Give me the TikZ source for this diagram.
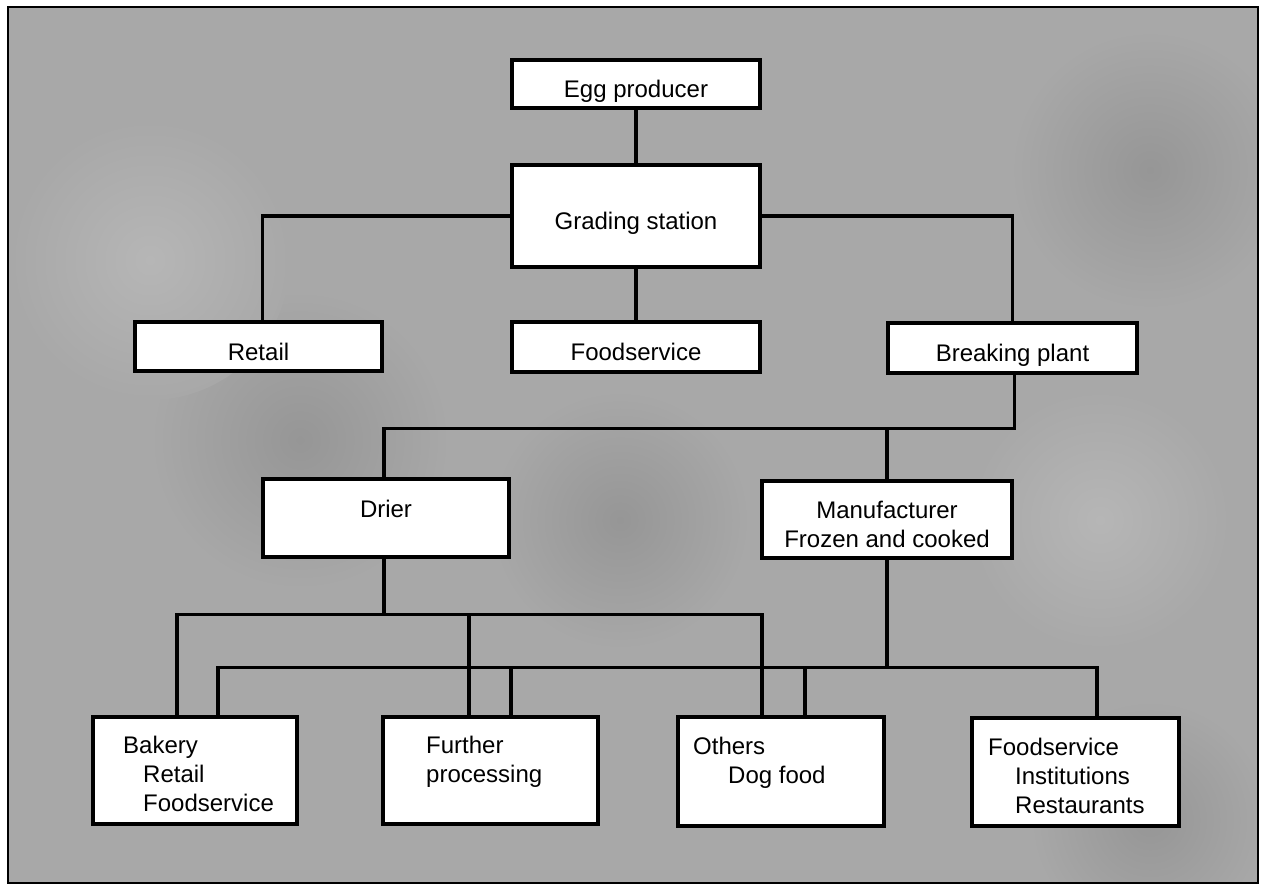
\documentclass[tikz,border=0pt]{standalone}
\usepackage{fontspec}
\setmainfont{Liberation Sans}
\usetikzlibrary{calc}
\definecolor{bg}{HTML}{A8A8A8}
\definecolor{bgdark}{HTML}{969696}
\definecolor{bglight}{HTML}{B6B6B6}
\begin{document}
\begin{tikzpicture}[x=1pt,y=-1pt,
  box/.style={draw=black, line width=3.2pt, fill=white, inner sep=0pt,
              font=\fontsize{24}{29}\selectfont, text height=27pt, text depth=0pt},
  conn/.style={draw=black, line width=3.2pt},
  txt/.style={inner sep=0pt, font=\fontsize{24}{29}\selectfont},
  blotch/.style={inner color=#1, outer color=bg}]
\useasboundingbox (0,0) rectangle (1262,886);
\fill[white] (0,0) rectangle (1262,886);
\fill[bg] (8,7) rectangle (1258,883);
\begin{scope}
\clip (8,7) rectangle (1258,883);
\shade[blotch=bgdark] (300,440) circle (150pt);
\shade[blotch=bgdark] (620,520) circle (130pt);
\shade[blotch=bgdark] (1150,170) circle (140pt);
\shade[blotch=bgdark] (1150,820) circle (120pt);
\shade[blotch=bglight] (150,260) circle (140pt);
\shade[blotch=bglight] (1100,520) circle (130pt);
\end{scope}
\draw[line width=2.8pt] (8,7) rectangle (1258,883);

% top level
\node[box, minimum width=248pt, minimum height=48pt] (egg) at (636,84) {Egg producer};
\node[box, minimum width=248pt, minimum height=102pt] (grading) at (636,216) {Grading station};
\node[box, minimum width=247pt, minimum height=49pt] (retail) at (258.5,346.5) {Retail};
\node[box, minimum width=248pt, minimum height=50pt] (foodsvc) at (636,347) {Foodservice};
\node[box, minimum width=249pt, minimum height=50pt] (breaking) at (1012.5,348) {Breaking plant};

% middle level
\node[box, minimum width=246pt, minimum height=78pt] (drier) at (386,518) {};
\node[txt, anchor=base] (drier-t) at (386,517) {Drier};
\node[box, minimum width=250pt, minimum height=77pt] (manuf) at (887,519.5) {};
\node[txt, anchor=base] (manuf-t) at (887,518)
  {\begin{tabular}[t]{@{}c@{}}Manufacturer\\Frozen and cooked\end{tabular}};

% bottom level
\node[box, minimum width=204pt, minimum height=107pt] (bakery) at (195,770.5) {};
\node[txt, anchor=base west] (bakery-t) at (123,753)
  {\begin{tabular}[t]{@{}l@{}}Bakery\\\hspace*{20pt}Retail\\\hspace*{20pt}Foodservice\end{tabular}};
\node[box, minimum width=215pt, minimum height=107pt] (further) at (490.5,770.5) {};
\node[txt, anchor=base west] (further-t) at (426,753)
  {\begin{tabular}[t]{@{}l@{}}Further\\processing\end{tabular}};
\node[box, minimum width=206pt, minimum height=109pt] (others) at (781,771.5) {};
\node[txt, anchor=base west] (others-t) at (693,754)
  {\begin{tabular}[t]{@{}l@{}}Others\\\hspace*{35pt}Dog food\end{tabular}};
\node[box, minimum width=207pt, minimum height=108pt] (fs2) at (1075.5,772) {};
\node[txt, anchor=base west] (fs2-t) at (988,755)
  {\begin{tabular}[t]{@{}l@{}}Foodservice\\\hspace*{27pt}Institutions\\\hspace*{27pt}Restaurants\end{tabular}};

% connectors, top
\draw[conn] (egg) -- (grading);
\draw[conn] (grading.west) -| ([xshift=4pt]retail.north);
\draw[conn] (grading.east) -| (breaking.north);
\draw[conn] (grading.south) -- (foodsvc.north);

% breaking plant to drier and manufacturer
\path ([xshift=2pt]breaking.south) ++(0,54) coordinate (bj);
\draw[conn] ([xshift=2pt]breaking.south) -- (bj) -| ([xshift=-2pt]drier.north);
\draw[conn] (manuf.north) -- (manuf.north |- bj);

% drier bus
\path ([xshift=-2pt]drier.south) ++(0,56) coordinate (dj);
\draw[conn] ([xshift=-2pt]drier.south) -- (dj);
\draw[conn] ([xshift=-18pt]bakery.north) |- ([xshift=-19pt]others.north |- dj) -- ([xshift=-19pt]others.north);
\draw[conn] ([xshift=-21.5pt]further.north) -- ([xshift=-21.5pt]further.north |- dj);

% manufacturer bus
\path (manuf.south) ++(0,108) coordinate (mj);
\draw[conn] (manuf.south) -- (mj);
\draw[conn] ([xshift=23pt]bakery.north) |- ([xshift=21.5pt]fs2.north |- mj) -- ([xshift=21.5pt]fs2.north);
\draw[conn] ([xshift=20.5pt]further.north) -- ([xshift=20.5pt]further.north |- mj);
\draw[conn] ([xshift=24pt]others.north) -- ([xshift=24pt]others.north |- mj);
\end{tikzpicture}
\end{document}
